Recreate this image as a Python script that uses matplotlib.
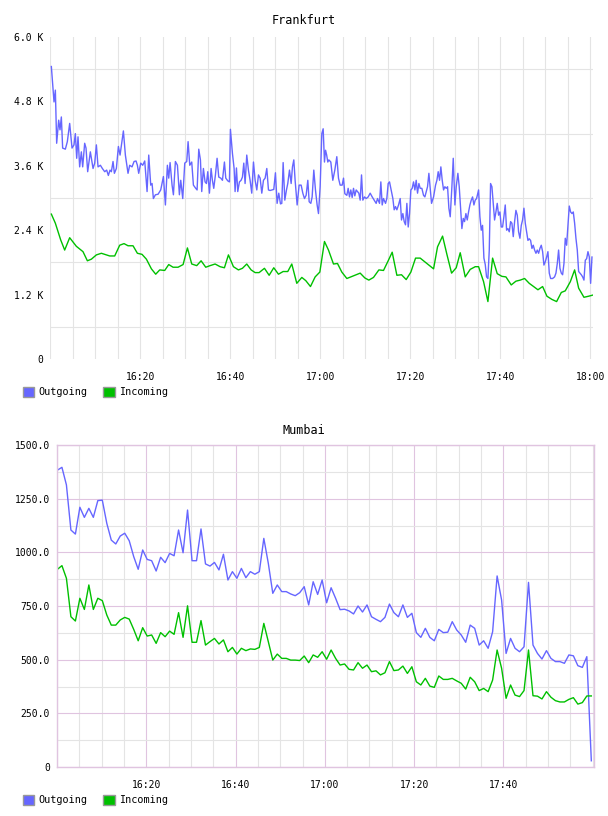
import numpy as np
import matplotlib
matplotlib.use('Agg')
import matplotlib.pyplot as plt
from matplotlib.patches import Patch
from matplotlib.ticker import FixedLocator, FuncFormatter, MultipleLocator

# Frankfurt: tiempos en minutos despues de las 16:00, valores en K
fra_out_t = [0.30, 0.89, 1.19, 1.48, 1.93, 2.22, 2.52, 2.81, 3.41, 3.85, 4.37, 4.89, 5.33, 5.63, 5.93,
             6.22, 6.59, 6.96, 7.26, 7.70, 8.00, 8.37, 8.96, 9.56, 9.93, 10.30, 10.67, 11.19, 11.63,
             12.15, 12.59, 12.96, 13.33, 13.63, 14.00, 14.30, 14.74, 15.19, 15.56, 16.00, 16.30, 16.74,
             17.33, 17.70, 18.22, 18.67, 19.11, 19.41, 19.70, 20.15, 20.59, 21.04, 21.56, 21.93, 22.37,
             22.67, 22.96, 23.41, 24.00, 24.59, 25.19, 25.63, 26.07, 26.37, 26.67, 27.11, 27.41, 27.85,
             28.30, 28.74, 29.04, 29.48, 29.93, 30.37, 30.67,
             31.04, 31.48, 31.85, 32.37, 32.67, 33.04, 33.41, 33.70, 34.07, 34.44, 34.74, 35.04, 35.41,
             35.78, 36.07, 36.37, 36.74, 37.11, 37.48, 37.93, 38.30, 38.74, 39.04, 39.48, 39.85, 40.07,
             40.52, 40.89, 41.11, 41.41, 41.70, 42.07, 42.44, 42.74, 43.04, 43.33, 43.70, 44.07, 44.44,
             44.81, 45.19, 45.56, 45.93, 46.30, 46.67, 47.04, 47.41, 47.78, 48.15, 48.52, 48.89, 49.26,
             49.70, 50.07, 50.44, 50.81, 51.19, 51.48, 51.78, 52.15, 52.52, 52.81, 53.19, 53.56, 53.85,
             54.15, 54.44, 54.89, 55.33, 55.78, 56.15, 56.52, 56.89, 57.26, 57.56, 57.93, 58.22, 58.59,
             58.96, 59.33, 59.63, 60.00, 60.37, 60.67,
             60.96, 61.20, 61.45, 61.70, 61.93, 62.37, 62.81, 63.26, 63.70, 64.07, 64.44, 64.89, 65.19,
             65.48, 65.93, 66.22, 66.52, 66.81, 67.11, 67.41, 67.70, 68.00, 68.30, 68.59, 68.89, 69.19,
             69.48, 69.85, 70.22, 70.67, 71.11, 71.56, 72.00, 72.44, 72.74, 73.19, 73.48, 73.78, 74.07,
             74.52, 74.81, 75.11, 75.41, 75.78, 76.15, 76.44, 76.74, 77.04, 77.41, 77.78, 78.07, 78.37,
             78.67, 78.96, 79.26, 79.56, 79.85, 80.15, 80.44, 80.74, 81.04, 81.33, 81.63, 81.93, 82.22,
             82.59, 82.96, 83.26, 83.56, 83.85, 84.15, 84.44, 84.74, 85.19, 85.63, 85.93, 86.22, 86.52,
             86.81, 87.11, 87.41, 87.70, 88.00, 88.30, 88.59, 88.89, 89.26, 89.56, 89.93, 90.22, 90.59,
             90.89,
             91.48, 91.78, 92.07, 92.37, 92.67, 92.96, 93.26, 93.56, 93.85, 94.15, 94.44, 94.74, 95.19,
             95.48, 95.78, 96.07, 96.37, 96.67, 96.96, 97.26, 97.56, 97.85, 98.15, 98.44, 98.74, 99.04,
             99.33, 99.63, 99.93, 100.22, 100.52, 100.81, 101.11, 101.41, 101.70, 102.00, 102.30, 102.59,
             102.89, 103.19, 103.48, 103.78, 104.07, 104.37, 104.67, 104.96, 105.26, 105.56, 105.85,
             106.15, 106.44, 106.74, 107.04, 107.33, 107.63, 107.93, 108.22, 108.52, 108.81, 109.11,
             109.41, 109.70, 110.00, 110.30, 110.59, 110.89, 111.19, 111.63, 112.07, 112.37, 112.67,
             112.96, 113.26, 113.56, 113.85, 114.15, 114.44, 114.74, 115.04, 115.33, 115.63, 115.93,
             116.22, 116.52, 116.81, 117.11, 117.41, 117.70, 118.00, 118.30, 118.59, 118.89, 119.19,
             119.48, 119.78, 120.07, 120.37]
fra_out_v = [5.45, 4.79, 5.01, 4.02, 4.45, 4.27, 4.51, 3.93, 3.91, 4.05, 4.39, 3.93, 3.99, 4.20, 3.74,
             4.14, 3.58, 3.86, 3.58, 4.02, 3.93, 3.49, 3.86, 3.55, 3.65, 3.99, 3.58, 3.61, 3.55,
             3.49, 3.52, 3.42, 3.52, 3.49, 3.68, 3.46, 3.55, 3.96, 3.80, 4.06, 4.25, 3.80,
             3.46, 3.61, 3.58, 3.68, 3.69, 3.61, 3.46, 3.65, 3.61, 3.69, 3.12, 3.80, 3.24,
             3.27, 2.99, 3.06, 3.07, 3.15, 3.40, 2.87, 3.61, 3.37, 3.66, 3.24, 3.06, 3.68,
             3.61, 3.06, 3.33, 2.99, 3.65, 3.68, 4.05,
             3.61, 3.67, 3.24, 3.18, 3.15, 3.91, 3.71, 3.12, 3.55, 3.30, 3.27, 3.49, 3.09,
             3.55, 3.33, 3.18, 3.43, 3.74, 3.39, 3.37, 3.33, 3.67, 3.37, 3.32, 3.30, 4.28,
             3.83, 3.55, 3.12, 3.56, 3.12, 3.30, 3.33, 3.39, 3.65, 3.27, 3.80, 3.52, 3.33,
             3.09, 3.67, 3.33, 3.15, 3.43, 3.37, 3.09, 3.33, 3.37, 3.55, 3.15, 3.14, 3.15,
             3.16, 3.47, 2.90, 3.09, 2.89, 2.90, 3.66, 2.96, 3.15, 3.27, 3.52, 3.27, 3.58,
             3.71, 3.33, 2.87, 3.24, 3.24, 3.09, 2.99, 3.05, 3.33, 2.93, 2.90, 3.02, 3.52,
             3.15, 2.87, 2.71, 3.21, 4.20, 4.29,
             3.67, 3.89, 3.80, 3.67, 3.71, 3.67, 3.33, 3.52, 3.77, 3.37, 3.24, 3.24, 3.37,
             3.08, 3.05, 3.18, 3.02, 3.15, 3.01, 3.18, 3.04, 3.15, 3.12, 3.09, 2.96, 3.43,
             2.96, 3.02, 2.99, 3.02, 3.09, 3.02, 2.96, 2.90, 2.99, 2.90, 3.30, 2.87, 2.99,
             2.90, 2.99, 3.27, 3.30, 3.15, 2.99, 2.78, 2.84, 2.78, 2.87, 2.99, 2.59, 2.71,
             2.56, 2.50, 2.90, 2.46, 2.71, 3.15, 3.18, 3.30, 3.15, 3.33, 3.09, 3.27, 3.18,
             3.18, 3.05, 3.02, 3.12, 3.21, 3.46, 3.18, 2.90, 3.02, 3.24, 3.33, 3.49, 3.33,
             3.58, 3.33, 3.15, 3.21, 3.18, 3.21, 2.81, 2.65, 3.21, 3.74, 2.87, 3.21, 3.46,
             3.21,
             2.43, 2.62, 2.56, 2.71, 2.59, 2.74, 2.87, 2.96, 3.02, 2.87, 2.96, 2.99, 3.15,
             2.65, 2.40, 2.49, 1.88, 1.76, 1.53, 1.50, 2.03, 3.27, 3.21, 2.90, 2.59, 2.74,
             2.90, 2.68, 2.74, 2.46, 2.46, 2.65, 2.87, 2.40, 2.43, 2.37, 2.56, 2.53,
             2.28, 2.56, 2.77, 2.68, 2.37, 2.25, 2.49, 2.59, 2.81, 2.53, 2.37,
             2.21, 2.24, 2.21, 2.06, 2.12, 2.03, 1.97, 2.03, 1.97, 2.06, 2.12,
             2.00, 1.75, 1.81, 1.90, 2.00, 1.60, 1.50, 1.50, 1.53, 1.60, 1.78,
             2.03, 1.69, 1.60, 1.57, 1.78, 2.25, 2.12, 2.49, 2.85, 2.74, 2.71,
             2.74, 2.53, 2.25, 2.03, 1.63, 1.60, 1.57, 1.53, 1.47, 1.84, 1.87,
             2.00, 1.90, 1.41, 1.90]

fra_in_t = [0.30, 1.19, 2.37, 3.26, 4.37, 5.85, 7.33, 8.30, 9.19, 10.30, 11.41, 13.26, 14.37, 15.48,
            16.44, 17.33, 18.44, 19.41, 20.44, 21.41, 22.52, 23.48, 24.37, 25.48, 26.37, 27.33, 28.44,
            29.56, 30.52, 31.48, 32.59, 33.56, 34.59, 35.56, 36.67, 37.78, 38.74, 39.63, 40.74, 41.85,
            42.74, 43.70, 44.67, 45.56, 46.44, 47.63, 48.67, 49.70, 50.74, 51.78, 52.81, 53.70, 54.81,
            55.93, 56.81, 57.85, 58.89, 59.93, 60.96, 61.85, 62.96, 63.85, 64.81, 65.93, 67.41, 68.89,
            69.93, 70.81, 71.85, 73.04, 74.07, 75.11, 76.00, 77.04, 78.07, 79.11, 80.15, 81.19, 82.22,
            83.70, 85.19, 86.07, 87.19, 88.15, 89.19, 90.22, 91.11, 92.22, 93.33, 94.44, 95.19, 96.30,
            97.26, 98.30, 99.33, 100.37, 101.26, 102.44, 103.48, 104.44, 105.41, 106.44, 107.41, 108.37,
            109.41, 110.37, 111.48, 112.52, 113.56, 114.44, 115.56, 116.52, 117.41, 118.59, 119.63,
            120.52]
fra_in_v = [2.70, 2.53, 2.22, 2.03, 2.26, 2.10, 2.00, 1.83, 1.86, 1.94, 1.97, 1.92, 1.92, 2.12,
            2.15, 2.11, 2.11, 1.97, 1.95, 1.86, 1.68, 1.58, 1.66, 1.65, 1.76, 1.71, 1.71,
            1.76, 2.07, 1.77, 1.74, 1.83, 1.71, 1.74, 1.77, 1.72, 1.70, 1.94, 1.72, 1.66,
            1.69, 1.77, 1.66, 1.61, 1.61, 1.69, 1.56, 1.70, 1.58, 1.63, 1.63, 1.77, 1.41,
            1.52, 1.46, 1.35, 1.53, 1.62, 2.19, 2.03, 1.77, 1.78, 1.62, 1.50, 1.55, 1.60,
            1.51, 1.47, 1.52, 1.66, 1.65, 1.83, 1.99, 1.56, 1.57, 1.48, 1.62, 1.88, 1.88,
            1.78, 1.68, 2.09, 2.29, 1.95, 1.60, 1.70, 1.98, 1.53, 1.67, 1.72, 1.72, 1.44,
            1.07, 1.88, 1.59, 1.54, 1.53, 1.38, 1.45, 1.47, 1.50, 1.41, 1.35, 1.29,
            1.35, 1.17, 1.11, 1.07, 1.24, 1.27, 1.44, 1.66, 1.32, 1.15, 1.17,
            1.19]

# Mumbai: una muestra por minuto
mum_out = [1383, 1396, 1314, 1104, 1085, 1210, 1163, 1205, 1163, 1241, 1243, 1135, 1057, 1039, 1076,
           1089, 1054, 980, 921, 1011, 967, 961, 913, 977, 952, 995, 984, 1104, 998, 1197,
           961, 961, 1109, 946, 936, 953, 918, 991, 871, 910, 879, 925, 882, 910, 898,
           910, 1065, 949, 809, 848, 817, 817, 806, 798, 812, 840, 755, 863, 804, 871,
           765, 835, 786, 733, 735, 727, 713, 750, 722, 755, 700, 688, 677, 697, 759,
           719, 700, 755, 697, 716, 626, 604, 646, 604, 588, 641, 626, 628, 677, 638,
           615, 581, 661, 646, 568, 588, 553, 630, 890, 778, 529, 599, 553, 537, 560,
           860, 568, 529, 503, 542, 506, 491, 491, 483, 522, 518, 472, 464, 514, 29]
mum_in = [921, 938, 879, 700, 680, 786, 734, 848, 734, 786, 775, 708, 661, 661, 685,
          697, 689, 641, 588, 649, 610, 615, 576, 626, 607, 633, 618, 719, 604, 751,
          581, 581, 682, 568, 584, 599, 573, 592, 537, 557, 526, 553, 542, 550, 548,
          557, 669, 584, 498, 526, 506, 506, 498, 498, 496, 517, 486, 522, 511, 537,
          502, 545, 506, 475, 480, 455, 452, 486, 460, 475, 444, 448, 429, 439, 491,
          449, 452, 470, 436, 467, 397, 382, 413, 377, 371, 424, 408, 408, 413, 401,
          390, 363, 418, 397, 356, 366, 351, 405, 545, 460, 320, 382, 335, 328, 356,
          545, 332, 330, 317, 351, 325, 309, 303, 303, 315, 323, 293, 300, 331, 331]
mum_t = np.linspace(0.1, 119.7, len(mum_out))

OUT = '#6666ff'
IN = '#00c000'
GRID = '#e4e4e4'
PURPLE = '#e0c4e0'

plt.rcParams['font.family'] = 'DejaVu Sans Mono'


def hhmm(m, pos=None):
    m = int(round(m))
    return f"{16 + m // 60}:{m % 60:02d}"


fig = plt.figure(figsize=(6.08, 8.16), dpi=100)

# ---- Frankfurt
ax1 = fig.add_axes([50 / 608, 1 - 359 / 816, 543 / 608, 322 / 816])
ax1.plot(fra_out_t, fra_out_v, color=OUT, lw=1.0)
ax1.plot(fra_in_t, fra_in_v, color=IN, lw=1.0)
ax1.set_xlim(0, 120.6)
ax1.set_ylim(0, 6.0)
ax1.xaxis.set_major_locator(FixedLocator([20, 40, 60, 80, 100, 120]))
ax1.xaxis.set_minor_locator(MultipleLocator(5))
ax1.xaxis.set_major_formatter(FuncFormatter(hhmm))
ax1.yaxis.set_major_locator(FixedLocator([0, 1.2, 2.4, 3.6, 4.8, 6.0]))
ax1.yaxis.set_minor_locator(FixedLocator([0.6, 1.8, 3.0, 4.2, 5.4]))
ax1.yaxis.set_major_formatter(FuncFormatter(lambda v, p: '0' if v == 0 else f"{v:.1f} K"))
ax1.grid(which='minor', color=GRID, lw=0.8)
ax1.grid(which='major', axis='x', color=GRID, lw=0.8)
ax1.set_axisbelow(True)
for s in ax1.spines.values():
    s.set_visible(False)
ax1.tick_params(which='both', length=0, labelsize=7)
ax1.tick_params(axis='x', pad=9)
ax1.tick_params(axis='y', pad=5)
fig.text(0.5, 1 - 20 / 816, 'Frankfurt', ha='center', va='center', fontsize=8.5)

# ---- Mumbai
ax2 = fig.add_axes([57 / 608, 1 - 767 / 816, 537 / 608, 322 / 816])
ax2.plot(mum_t, mum_out, color=OUT, lw=1.0)
ax2.plot(mum_t, mum_in, color=IN, lw=1.0)
ax2.set_xlim(0, 120.3)
ax2.set_ylim(0, 1500)
ax2.xaxis.set_major_locator(FixedLocator([20, 40, 60, 80, 100]))
ax2.xaxis.set_minor_locator(MultipleLocator(5))
ax2.xaxis.set_major_formatter(FuncFormatter(hhmm))
ax2.yaxis.set_major_locator(MultipleLocator(250))
ax2.yaxis.set_minor_locator(FixedLocator([125, 375, 625, 875, 1125, 1375]))
ax2.yaxis.set_major_formatter(FuncFormatter(lambda v, p: '0' if v == 0 else f"{v:.1f}"))
ax2.grid(which='major', color=PURPLE, lw=0.8)
ax2.grid(which='minor', color=GRID, lw=0.8)
ax2.set_axisbelow(True)
for s in ax2.spines.values():
    s.set_color(PURPLE)
    s.set_linewidth(1.0)
ax2.tick_params(which='both', length=0, labelsize=7)
ax2.tick_params(axis='x', pad=9)
ax2.tick_params(axis='y', pad=5)
fig.text(0.5, 1 - 430 / 816, 'Mumbai', ha='center', va='center', fontsize=8.5)

# ---- leyendas
handles = [Patch(facecolor=OUT, edgecolor='#999999', label='Outgoing'),
           Patch(facecolor=IN, edgecolor='#999999', label='Incoming')]
for yc in (392, 800):
    fig.legend(handles=handles, loc='center left', bbox_to_anchor=(23 / 608, 1 - yc / 816),
               ncol=2, frameon=False, fontsize=7.3, handlelength=1.1, handleheight=1.1,
               handletextpad=0.4, columnspacing=1.6, borderpad=0, borderaxespad=0)

fig.savefig('out.png', dpi=100)
